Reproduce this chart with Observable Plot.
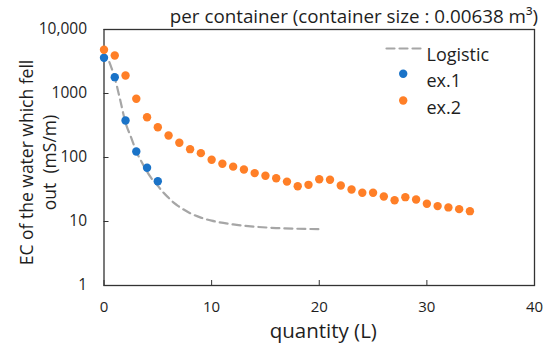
<!DOCTYPE html>
<html>
<head>
<meta charset="utf-8">
<script src="https://cdn.jsdelivr.net/npm/d3@7"></script>
<script src="https://cdn.jsdelivr.net/npm/@observablehq/plot@0.6"></script>
<style>
  html, body { margin: 0; padding: 0; background: white; }
  #chart text { white-space: pre; }
</style>
</head>
<body>
<div id="chart"></div>
<script>
const title = "per container (container size : 0.00638 m³)";
const xLabel = "quantity (L)";
const yLabel = "EC of the water which fell\nout  (mS/m)";

const xTicks = [0, 10, 20, 30, 40];
const yTicks = [1, 10, 100, 1000, 10000];
const yTickLabels = ["1", "10", "100", "1000", "10,000"];

const ex1X = [0, 1, 2, 3, 4, 5];
const ex1Y = [3610, 1800, 378, 124, 69, 42.6];

const ex2X = [0,1,2,3,4,5,6,7,8,9,10,11,12,13,14,15,16,17,18,19,20,21,22,23,24,25,26,27,28,29,30,31,32,33,34];
const ex2Y = [4820,3925,1910,826,426,297,221,170,135,117,92,80,72,65,57,52,47.5,42,35.6,37.4,45.8,44.9,36.5,31.6,28.1,28.1,24.6,21.5,24,22.1,18.9,17.4,16.6,15.6,14.5];

const logisticX = [0.5,1,1.5,2,2.5,3,3.5,4,4.5,5,5.5,6,6.5,7,8,9,10,12,14,16,18,20];
const logisticY = [3100,1750,800,350,210,125,85,60,45,36,28.5,23.5,19.5,17,13.5,11.5,10.3,9.0,8.3,7.9,7.7,7.6];

const seriesNames = ["Logistic", "ex.1", "ex.2"];
const colors = {blue: "#1a73c8", orange: "#ff7f27", gray: "#a6a6a6", ink: "#1e1e1e", frame: "#333333"};

const ex1 = ex1X.map((x, i) => ({x, y: ex1Y[i]}));
const ex2 = ex2X.map((x, i) => ({x, y: ex2Y[i]}));
const logistic = logisticX.map((x, i) => ({x, y: logisticY[i]}));

const lineShape = {draw(context, l) { context.moveTo(0, 0); context.lineTo(0, -l); }};

const chart = Plot.plot({
  width: 550,
  height: 346,
  marginLeft: 103.5,
  marginRight: 16,
  marginTop: 29,
  marginBottom: 61,
  style: {fontFamily: "'Open Sans', sans-serif", background: "white", color: colors.ink, overflow: "visible"},
  x: {domain: [0, 40]},
  y: {type: "log", domain: [1, 10000]},
  marks: [
    Plot.axisX(xTicks, {tickSize: -5, tickPadding: 21, fontSize: 15, label: null, stroke: colors.frame, fill: colors.ink}),
    Plot.axisY(yTicks, {tickSize: -5, tickPadding: 22, fontSize: 15.5, label: null, tickFormat: d => yTickLabels[yTicks.indexOf(d)], stroke: colors.frame, fill: colors.ink}),
    Plot.frame({stroke: colors.frame, strokeWidth: 1.3}),
    Plot.line(logistic, {x: "x", y: "y", curve: "monotone-x", stroke: colors.gray, strokeWidth: 2.2, strokeDasharray: "8,5"}),
    Plot.dot(ex1, {x: "x", y: "y", r: 4.2, fill: colors.blue}),
    Plot.dot(ex2, {x: "x", y: "y", r: 4.2, fill: colors.orange}),
    // axis titles
    Plot.text([xLabel], {frameAnchor: "bottom", dx: 4, dy: 46, fontSize: 20.5, lineAnchor: "middle", fill: colors.ink}),
    Plot.text([yLabel], {frameAnchor: "left", rotate: -90, dx: -67, dy: 5, fontSize: 17.5, lineHeight: 1.32, textAnchor: "middle", lineAnchor: "middle", fill: colors.ink}),
    // title
    Plot.text([title], {frameAnchor: "top-right", textAnchor: "end", dx: 3.5, dy: -13, fontSize: 18.8, lineAnchor: "middle", fill: colors.ink}),
    // legend
    Plot.vector([seriesNames[0]], {frameAnchor: "top-right", dx: -114, dy: 19, length: 38, rotate: -90, anchor: "start", shape: lineShape, stroke: colors.gray, strokeWidth: 2.2, strokeDasharray: "8,5"}),
    Plot.text([seriesNames[0]], {frameAnchor: "top-right", dx: -108, dy: 19, textAnchor: "start", fontSize: 18, fill: colors.ink}),
    Plot.dot([seriesNames[1]], {frameAnchor: "top-right", dx: -131.3, dy: 44.3, r: 4.2, fill: colors.blue}),
    Plot.text([seriesNames[1]], {frameAnchor: "top-right", dx: -108, dy: 45, textAnchor: "start", fontSize: 18, fill: colors.ink}),
    Plot.dot([seriesNames[2]], {frameAnchor: "top-right", dx: -131.3, dy: 71, r: 4.2, fill: colors.orange}),
    Plot.text([seriesNames[2]], {frameAnchor: "top-right", dx: -108, dy: 71.5, textAnchor: "start", fontSize: 18, fill: colors.ink})
  ]
});
document.getElementById("chart").appendChild(chart);
</script>
</body>
</html>
